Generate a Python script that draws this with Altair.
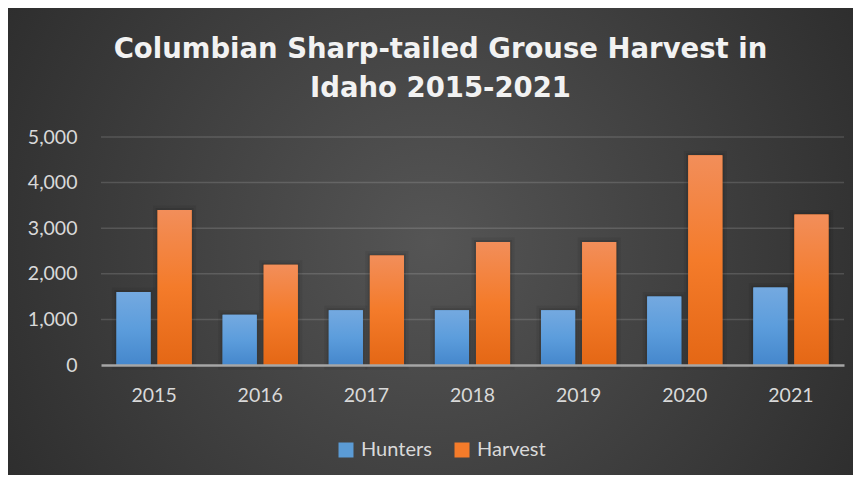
import altair as alt
import pandas as pd

years = ["2015", "2016", "2017", "2018", "2019", "2020", "2021"]
hunters = [1600, 1100, 1200, 1200, 1200, 1500, 1700]
harvest = [3400, 2200, 2400, 2700, 2700, 4600, 3300]
series = ["Hunters", "Harvest"]
title_lines = ["Columbian Sharp-tailed Grouse Harvest in", "Idaho 2015-2021"]
y_ticks = [0, 1000, 2000, 3000, 4000, 5000]

rows = []
for i, y in enumerate(years):
    rows.append({"year": y, "series": "Hunters", "value": hunters[i]})
    rows.append({"year": y, "series": "Harvest", "value": harvest[i]})
df = pd.DataFrame(rows)
grid_df = pd.DataFrame({"value": y_ticks[1:]})

W, H = 743, 228
PL, PT, PR, PB = 93, 129, 9, 110

blue_grad = alt.LinearGradient(
    gradient="linear", x1=0, y1=0, x2=0, y2=1,
    stops=[alt.GradientStop(offset=0, color="#74a9e0"),
           alt.GradientStop(offset=0.5, color="#5c9ddc"),
           alt.GradientStop(offset=1, color="#4587cc")])
orange_grad = alt.LinearGradient(
    gradient="linear", x1=0, y1=0, x2=0, y2=1,
    stops=[alt.GradientStop(offset=0, color="#f28e5a"),
           alt.GradientStop(offset=0.5, color="#f47b2a"),
           alt.GradientStop(offset=1, color="#e46715")])
bg_grad = alt.RadialGradient(
    gradient="radial", x1=0.5, y1=0.5, r1=0, x2=0.5, y2=0.5, r2=0.75,
    stops=[alt.GradientStop(offset=0, color="#555555"),
           alt.GradientStop(offset=1, color="#222222")])

base = alt.Chart(df)

bg = base.mark_rect(color=bg_grad).encode(
    x=alt.value(-PL), x2=alt.value(W + PR),
    y=alt.value(-PT), y2=alt.value(H + PB),
)

LABEL_FONT = "Lato"
y_scale = alt.Scale(domain=[0, 5000], nice=False)
x_enc = alt.X("year:N", sort=years, title=None,
              scale=alt.Scale(paddingInner=0, paddingOuter=0),
              axis=alt.Axis(labelFontSize=19.5, labelColor="#d9d9d9", labelFont=LABEL_FONT,
                            labelPadding=21, ticks=False, domainColor="#a6a6a6",
                            domainWidth=2.5, labelAngle=0, zindex=1))
xo_enc = alt.XOffset("series:N", sort=series,
                     scale=alt.Scale(domain=series, paddingInner=0.17, paddingOuter=0.377))
y_enc = alt.Y("value:Q", title=None, scale=y_scale,
              axis=alt.Axis(values=y_ticks, format=",.0f", labelFontSize=19.5, labelColor="#d9d9d9",
                            labelFont=LABEL_FONT, labelPadding=24, ticks=False, domain=False,
                            grid=False, zindex=1))

grid = alt.Chart(grid_df).mark_rule(color="#ffffff", opacity=0.14, strokeWidth=1.5).encode(
    y=y_enc)

shadow_outer = base.mark_bar(color="#000000", stroke="#000000", strokeWidth=9, opacity=0.06,
                             xOffset=1.5).encode(x=x_enc, xOffset=xo_enc, y=y_enc)
shadow_inner = base.mark_bar(color="#000000", stroke="#000000", strokeWidth=4, opacity=0.09,
                             xOffset=1).encode(x=x_enc, xOffset=xo_enc, y=y_enc)

legend_bars = base.mark_bar().encode(
    x=x_enc, xOffset=xo_enc, y=y_enc,
    color=alt.Color("series:N", sort=series,
                    scale=alt.Scale(domain=series, range=["#5b9bd5", "#f47b2a"]),
                    legend=alt.Legend(title=None, orient="none", direction="horizontal",
                                      legendX=235, legendY=303, symbolType="square",
                                      symbolSize=225, symbolStrokeWidth=0,
                                      labelFontSize=20, labelColor="#d9d9d9", labelFont=LABEL_FONT,
                                      labelOffset=5, columnPadding=20)),
)

hunt_bars = base.transform_filter(alt.datum.series == "Hunters").mark_bar(color=blue_grad).encode(
    x=x_enc, xOffset=xo_enc, y=y_enc)
harv_bars = base.transform_filter(alt.datum.series == "Harvest").mark_bar(color=orange_grad).encode(
    x=x_enc, xOffset=xo_enc, y=y_enc)

chart = alt.layer(bg, grid, shadow_outer, shadow_inner, legend_bars, hunt_bars, harv_bars).properties(
    width=W, height=H,
    autosize=alt.AutoSizeParams(type="none"),
    padding={"left": PL, "top": PT, "right": PR, "bottom": PB},
    background="#262626",
    title=alt.TitleParams(text=title_lines, font="DejaVu Sans", fontSize=27.5, fontWeight="bold",
                          color="#f2f2f2", anchor="middle", lineHeight=39, offset=-94, dx=-32),
).configure_view(stroke=None)

chart.save("out.html", embed_options={"renderer": "svg", "actions": False})
